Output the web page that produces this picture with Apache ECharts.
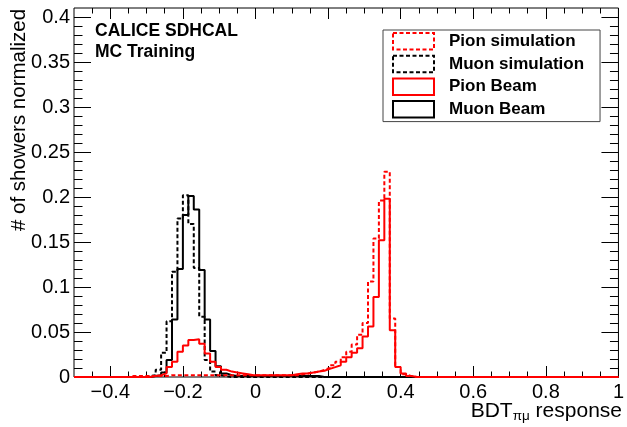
<!DOCTYPE html>
<html><head><meta charset="utf-8">
<script src="https://cdn.jsdelivr.net/npm/echarts@6/dist/echarts.min.js"></script>
<style>html,body{margin:0;padding:0;background:#fff}#c{width:627px;height:427px}</style>
</head><body><div id="c"></div>
<script>
// Histogram binning: 100 bins of width 0.015 from -0.5 to 1.0
const binMin = -0.5;
const binWidth = 0.015;
const nBins = 100;

const seriesNames = ['Pion simulation', 'Muon simulation', 'Pion Beam', 'Muon Beam'];

// bin contents (first stored bin index, then values); all other bins are 0
const pionSimStart = 10;
const pionSim = [0.001,0.001,0.001,0.001,0.001,0.001,0.001,
  0.002,0.002,0.002,0.002,0.002,0.002,0.002,0.002,0.002,0.002,0.002,0.002,
  0.002,0.002,0.002,0.002,0.002,0.002,0.002,0.002,0.002,0.002,0.002,0.002,
  0.003,0.004,0.005,0.006,0.008,0.010,0.013,0.017,0.022,0.028,0.036,0.047,
  0.060,0.106,0.154,0.196,0.228,0.065,0.011,0.003,0.001];

const muonSimStart = 13;
const muonSim = [0.001,0.002,0.008,0.027,0.062,0.117,0.176,0.202,0.170,0.121,
  0.067,0.019,0.006,0.002,0.001];

const pionBeamStart = 14;
const pionBeam = [0.001,0.002,0.004,0.011,0.017,0.028,0.035,0.041,0.042,0.037,
  0.026,0.017,0.011,0.008,0.006,0.005,0.004,0.003,
  0.002,0.002,0.002,0.002,0.002,0.002,0.002,0.002,
  0.003,0.004,0.004,0.005,0.006,0.007,0.009,0.011,0.013,0.017,0.022,0.027,
  0.032,0.045,0.056,0.089,0.152,0.198,0.052,0.011,0.004,0.001];

const muonBeamStart = 14;
const muonBeam = [0.001,0.002,0.005,0.019,0.064,0.120,0.180,0.201,0.186,0.119,
  0.064,0.029,0.012,0.004,0.002,0.001,
  0.001,0.001,0.001,0.001,0.001,0.001,0.001,0.001,0.001,0.001,0.001,0.001,0.001,0.001,0.001];

// tick values
const xMajorTicks = [-0.4, -0.2, 0, 0.2, 0.4, 0.6, 0.8, 1];
const xMinorTicks = [-0.45, -0.35, -0.3, -0.25, -0.15, -0.1, -0.05, 0.05, 0.1, 0.15,
  0.25, 0.3, 0.35, 0.45, 0.5, 0.55, 0.65, 0.7, 0.75, 0.85, 0.9, 0.95];
const yMajorTicks = [0, 0.05, 0.1, 0.15, 0.2, 0.25, 0.3, 0.35, 0.4];
const yMinorTicks = [0.01,0.02,0.03,0.04,0.06,0.07,0.08,0.09,0.11,0.12,0.13,0.14,
  0.16,0.17,0.18,0.19,0.21,0.22,0.23,0.24,0.26,0.27,0.28,0.29,0.31,0.32,0.33,0.34,
  0.36,0.37,0.38,0.39];

const FONT = "'Liberation Sans', Arial, Helvetica, sans-serif";

function toSteps(start, vals) {
  const pts = [];
  for (let k = 0; k <= nBins; k++) {
    const i = k - start;
    const v = (k < nBins && i >= 0 && i < vals.length) ? vals[i] : 0;
    pts.push([+(binMin + k * binWidth).toFixed(4), v]);
  }
  return pts;
}

function xAx(position, ticks, len, withLabels) {
  return {
    type: 'value', min: -0.5, max: 1, position: position,
    axisLine: { show: false, onZero: false },
    splitLine: { show: false },
    axisTick: { show: true, inside: true, length: len, customValues: ticks,
      lineStyle: { color: '#000', width: 1 } },
    axisLabel: withLabels ? {
      show: true, customValues: ticks, margin: 5, fontSize: 20, fontFamily: FONT, color: '#000',
      formatter: function (v) { return v < 0 ? '\u2212' + String(+(-v).toFixed(2)) : String(+v.toFixed(2)); }
    } : { show: false }
  };
}
function yAx(position, ticks, len, withLabels) {
  return {
    type: 'value', min: 0, max: 0.41, position: position,
    axisLine: { show: false, onZero: false },
    splitLine: { show: false },
    axisTick: { show: true, inside: true, length: len, customValues: ticks,
      lineStyle: { color: '#000', width: 1 } },
    axisLabel: withLabels ? {
      show: true, customValues: ticks, margin: 4, fontSize: 20, fontFamily: FONT, color: '#000',
      formatter: function (v) { return String(+v.toFixed(2)); }
    } : { show: false }
  };
}

const chart = echarts.init(document.getElementById('c'), null, { renderer: 'canvas' });

const RED = '#ff0000', BLACK = '#000000';
function histSeries(name, start, vals, color, dashed, z) {
  return {
    name: name, type: 'line', step: 'end', xAxisIndex: 0, yAxisIndex: 0,
    data: toSteps(start, vals), showSymbol: false, symbol: 'none', clip: false,
    animation: false, z: z,
    itemStyle: { color: color },
    lineStyle: { color: color, width: 2, type: dashed ? [4, 2.5] : 'solid' }
  };
}

function legendItem(name, color, dashed) {
  return { name: name, icon: 'rect',
    itemStyle: { color: '#ffffff', borderColor: color, borderWidth: 2,
      borderType: dashed ? [4, 2.5] : 'solid' } };
}

chart.setOption({
  animation: false,
  backgroundColor: '#ffffff',
  grid: { left: 74, right: 4.5, top: 8, bottom: 50, show: true,
    borderColor: '#000', borderWidth: 1, backgroundColor: 'transparent' },
  title: {
    text: 'CALICE SDHCAL\nMC Training', left: 95, top: 20, padding: 0,
    textStyle: { fontSize: 17.5, fontWeight: 'bold', fontFamily: FONT, color: '#000', lineHeight: 21.5 }
  },
  legend: {
    orient: 'vertical', left: 383, top: 30,
    itemWidth: 41, itemHeight: 16.5, itemGap: 4.2,
    padding: [2, 16, 3, 9],
    backgroundColor: '#fff', borderColor: '#444', borderWidth: 1,
    selectedMode: false,
    textStyle: { fontSize: 17, lineHeight: 16.5, fontWeight: 'bold', fontFamily: FONT, color: '#000', padding: [0, 0, 0, 10] },
    data: [
      legendItem(seriesNames[0], RED, true),
      legendItem(seriesNames[1], BLACK, true),
      legendItem(seriesNames[2], RED, false),
      legendItem(seriesNames[3], BLACK, false)
    ]
  },
  xAxis: [
    xAx('bottom', xMajorTicks, 11, true),
    xAx('bottom', xMinorTicks, 5.5, false),
    xAx('top', xMajorTicks, 11, false),
    xAx('top', xMinorTicks, 5.5, false)
  ],
  yAxis: [
    yAx('left', yMajorTicks, 17, true),
    yAx('left', yMinorTicks, 8.5, false),
    yAx('right', yMajorTicks, 17, false),
    yAx('right', yMinorTicks, 8.5, false)
  ],
  graphic: [
    { type: 'text', x: 19, y: 120, rotation: Math.PI / 2, silent: true,
      style: { text: '# of showers normalized', fontSize: 20.5, fontFamily: FONT, fill: '#000',
        align: 'center', verticalAlign: 'middle' } },
    { type: 'text', x: 622, y: 411, silent: true,
      style: { text: '{a|BDT}{b|\u03c0\u03bc}{a| response}', fontSize: 21, fontFamily: FONT, fill: '#000',
        align: 'right', verticalAlign: 'middle',
        rich: {
          a: { fontSize: 21, fontFamily: FONT, fill: '#000', lineHeight: 25, verticalAlign: 'middle' },
          b: { fontSize: 13.5, fontFamily: FONT, fill: '#000', lineHeight: 13.5, verticalAlign: 'bottom' }
        } } }
  ],
  series: [
    histSeries(seriesNames[3], muonBeamStart, muonBeam, BLACK, false, 2),
    histSeries(seriesNames[1], muonSimStart, muonSim, BLACK, true, 3),
    histSeries(seriesNames[0], pionSimStart, pionSim, RED, true, 4),
    histSeries(seriesNames[2], pionBeamStart, pionBeam, RED, false, 5)
  ]
});
</script></body></html>
